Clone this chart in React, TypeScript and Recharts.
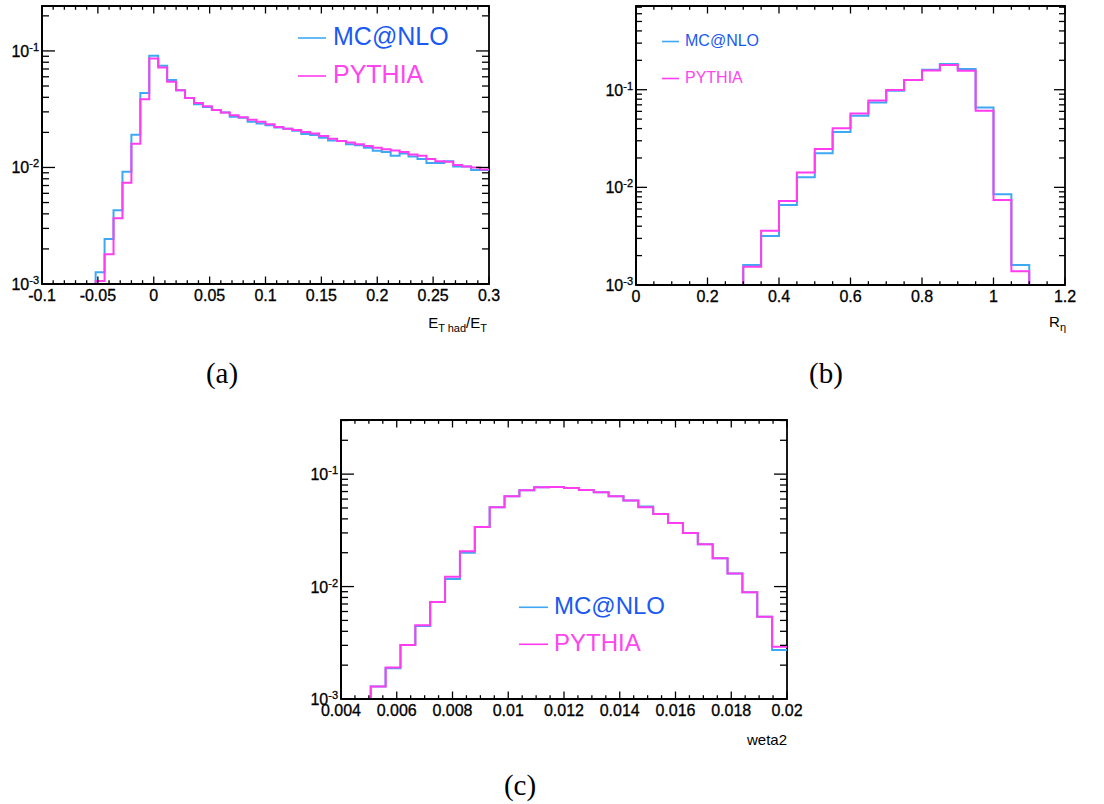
import React from "react"
import { LineChart, Line, XAxis, YAxis, ReferenceArea, Legend } from "recharts"

const FONT = "'Liberation Sans', Arial, Helvetica, sans-serif"
const SERIF = "'Liberation Serif', 'DejaVu Serif', serif"
const MC_LINE = "#3ea8f3"
const PY_LINE = "#ff3cf0"
const MC_TEXT = "#1a5af2"
const PY_TEXT = "#ff45ee"
const Y_MIN = 0.001

// (a) E_T had / E_T : 50 bins of 0.008 from -0.1
const etLow = -0.1
const etBin = 0.008
const etMc = [
  0.001, 0.001, 0.001, 0.001, 0.001, 0.001, 0.00126, 0.00243, 0.00429, 0.0092,
  0.0191, 0.0436, 0.091, 0.0748, 0.0564, 0.046, 0.0395, 0.0349, 0.033, 0.0312,
  0.0296, 0.0273, 0.0267, 0.0247, 0.0238, 0.023, 0.022, 0.0215, 0.0207, 0.0194,
  0.019, 0.018, 0.017, 0.0169, 0.0158, 0.0155, 0.0148, 0.0139, 0.0136, 0.0126,
  0.0132, 0.0124, 0.0118, 0.0109, 0.0109, 0.0113, 0.0102, 0.0102, 0.0095, 0.0095,
]
const etPy = [
  0.001, 0.001, 0.001, 0.001, 0.001, 0.001, 0.00106, 0.0018, 0.00366, 0.0074,
  0.016, 0.0385, 0.086, 0.072, 0.0545, 0.046, 0.0395, 0.0358, 0.0335, 0.0312,
  0.0296, 0.0281, 0.027, 0.0257, 0.0247, 0.0235, 0.0222, 0.0215, 0.021, 0.0202,
  0.0196, 0.0186, 0.0176, 0.0169, 0.0164, 0.0158, 0.0153, 0.0148, 0.0143, 0.014,
  0.0136, 0.0129, 0.0126, 0.0118, 0.0113, 0.0112, 0.0105, 0.0102, 0.01, 0.0096,
]
const etMajor = [-0.1, -0.05, 0, 0.05, 0.1, 0.15, 0.2, 0.25, 0.3]
const etLabels = ["-0.1", "-0.05", "0", "0.05", "0.1", "0.15", "0.2", "0.25", "0.3"]

// (b) R_eta : 24 bins of 0.05 from 0
const rEtaLow = 0
const rEtaBin = 0.05
const rEtaMc = [
  0.001, 0.001, 0.001, 0.001, 0.001, 0.001, 0.0016, 0.00317, 0.0066, 0.0127,
  0.0224, 0.0368, 0.0542, 0.0741, 0.0977, 0.126, 0.16, 0.183, 0.163, 0.0659,
  0.00848, 0.0016, 0.001, 0.001,
]
const rEtaPy = [
  0.001, 0.001, 0.001, 0.001, 0.001, 0.001, 0.00154, 0.0036, 0.00724, 0.0142,
  0.0247, 0.0402, 0.0572, 0.0777, 0.0995, 0.126, 0.157, 0.179, 0.156, 0.061,
  0.00741, 0.00138, 0.001, 0.001,
]
const rEtaMajor = [0, 0.2, 0.4, 0.6, 0.8, 1, 1.2]
const rEtaLabels = ["0", "0.2", "0.4", "0.6", "0.8", "1", "1.2"]

// (c) weta2 : 30 bins from 0.004 to 0.02
const weta2Low = 0.004
const weta2Bin = 0.016 / 30
const weta2Mc = [
  0.001, 0.001, 0.00129, 0.00188, 0.00302, 0.00445, 0.0073, 0.0117, 0.02, 0.0339,
  0.0507, 0.0635, 0.0718, 0.0764, 0.0767, 0.0753, 0.0723, 0.069, 0.0635, 0.0582,
  0.0515, 0.0442, 0.0368, 0.03, 0.0238, 0.0179, 0.0131, 0.0089, 0.0054, 0.00273,
]
const weta2Py = [
  0.001, 0.001, 0.00129, 0.00191, 0.00302, 0.00452, 0.0073, 0.0122, 0.0206, 0.0339,
  0.0507, 0.0635, 0.0718, 0.0764, 0.0767, 0.0753, 0.0723, 0.069, 0.0635, 0.0582,
  0.0507, 0.0442, 0.0368, 0.03, 0.0238, 0.0179, 0.0131, 0.0089, 0.0054, 0.00292,
]
const weta2Major = [0.004, 0.006, 0.008, 0.01, 0.012, 0.014, 0.016, 0.018, 0.02]
const weta2Labels = ["0.004", "0.006", "0.008", "0.01", "0.012", "0.014", "0.016", "0.018", "0.02"]

type Row = { x: number; mc: number; py: number }

// histogram rows at the low edge of each bin, plus the closing edge
function histRows(low: number, bin: number, mc: number[], py: number[]): Row[] {
  const rows = mc.map((v, i) => ({ x: low + i * bin, mc: v, py: py[i] }))
  rows.push({ x: low + mc.length * bin, mc: mc[mc.length - 1], py: py[py.length - 1] })
  return rows
}

function minorTicks(major: number[], parts: number) {
  const out: number[] = []
  for (let i = 0; i < major.length - 1; i++) {
    const step = (major[i + 1] - major[i]) / parts
    for (let k = 0; k < parts; k++) out.push(major[i] + k * step)
  }
  out.push(major[major.length - 1])
  return out
}

function logTicks(min: number, max: number) {
  const out: number[] = []
  for (let e = Math.round(Math.log10(min)); e < 2; e++) {
    for (let m = 1; m <= 9; m++) {
      const v = m * Math.pow(10, e)
      if (v > max * 1.0001) return out
      out.push(v)
    }
  }
  return out
}

type Plot = { left: number; top: number; right: number; bottom: number }
type LegendPos = { left: number; top: number; size: number; lineLen: number; gap: number; rowGap: number }

type PanelProps = {
  left: number
  top: number
  width: number
  height: number
  plot: Plot
  rows: Row[]
  xMajor: number[]
  xLabels: string[]
  xParts: number
  yMax: number
  yMajorLen: number
  yMinorLen: number
  legend: LegendPos
  title: React.ReactNode
}

const X_AXIS_H = 30
const LABEL_SIZE = 16

function HistPanel(p: PanelProps) {
  const { plot } = p
  const xDomain: [number, number] = [p.xMajor[0], p.xMajor[p.xMajor.length - 1]]
  const xTicks = minorTicks(p.xMajor, p.xParts)
  const yTicks = logTicks(Y_MIN, p.yMax)

  const xTick = (t: any) => {
    const v = t.payload.value
    const x = t.x
    const idx = p.xMajor.findIndex((m) => Math.abs(m - v) < 1e-9)
    const len = idx >= 0 ? 7.5 : 3.8
    return (
      <g>
        <line x1={x} x2={x} y1={plot.bottom} y2={plot.bottom - len} stroke="#000" strokeWidth={1.3} />
        <line x1={x} x2={x} y1={plot.top} y2={plot.top + len} stroke="#000" strokeWidth={1.3} />
        {idx >= 0 && (
          <text x={x} y={plot.bottom + 17} textAnchor="middle" fontSize={LABEL_SIZE} fontFamily={FONT} fill="#000" stroke="#000" strokeWidth={0.3}>
            {p.xLabels[idx]}
          </text>
        )}
      </g>
    )
  }

  const yTick = (t: any) => {
    const v = t.payload.value
    const y = t.y
    const exp = Math.log10(v)
    const major = Math.abs(exp - Math.round(exp)) < 1e-6
    const len = major ? p.yMajorLen : p.yMinorLen
    return (
      <g>
        <line x1={plot.left} x2={plot.left + len} y1={y} y2={y} stroke="#000" strokeWidth={1.3} />
        <line x1={plot.right} x2={plot.right - len} y1={y} y2={y} stroke="#000" strokeWidth={1.3} />
        {major && (
          <text x={plot.left - 3} y={y + 6} textAnchor="end" fontSize={LABEL_SIZE} fontFamily={FONT} fill="#000" stroke="#000" strokeWidth={0.3}>
            10
            <tspan fontSize={11} dy={-6}>
              {String(Math.round(exp))}
            </tspan>
          </text>
        )}
      </g>
    )
  }

  const lg = p.legend
  const legendBox = () => (
    <svg width={lg.lineLen + lg.gap + lg.size * 4.8} height={lg.rowGap + lg.size * 1.4} style={{ display: "block", overflow: "visible" }}>
      <line x1={0} x2={lg.lineLen} y1={lg.size * 0.72} y2={lg.size * 0.72} stroke={MC_LINE} strokeWidth={1.6} />
      <text x={lg.lineLen + lg.gap} y={lg.size} fontSize={lg.size} fontFamily={FONT} fill={MC_TEXT}>
        MC@NLO
      </text>
      <line x1={0} x2={lg.lineLen} y1={lg.rowGap + lg.size * 0.72} y2={lg.rowGap + lg.size * 0.72} stroke={PY_LINE} strokeWidth={1.6} />
      <text x={lg.lineLen + lg.gap} y={lg.rowGap + lg.size} fontSize={lg.size} fontFamily={FONT} fill={PY_TEXT}>
        PYTHIA
      </text>
    </svg>
  )

  return (
    <div style={{ position: "absolute", left: p.left, top: p.top }}>
      <LineChart
        width={p.width}
        height={p.height}
        data={p.rows}
        margin={{ top: plot.top, right: p.width - plot.right, left: 0, bottom: p.height - plot.bottom - X_AXIS_H }}
      >
        <XAxis
          dataKey="x"
          type="number"
          domain={xDomain}
          ticks={xTicks}
          interval={0}
          height={X_AXIS_H}
          tickSize={0}
          tickMargin={0}
          tickLine={false}
          axisLine={{ stroke: "#000", strokeWidth: 2 }}
          tick={xTick}
        />
        <YAxis
          type="number"
          scale="log"
          domain={[Y_MIN, p.yMax]}
          ticks={yTicks}
          interval={0}
          width={plot.left}
          tickSize={0}
          tickMargin={0}
          tickLine={false}
          axisLine={{ stroke: "#000", strokeWidth: 2 }}
          tick={yTick}
        />
        <Legend
          layout="vertical"
          verticalAlign="middle"
          align="center"
          content={legendBox}
          wrapperStyle={{ left: lg.left, top: lg.top, width: "auto", height: "auto" }}
        />
        <ReferenceArea x1={xDomain[0]} x2={xDomain[1]} y1={Y_MIN} y2={p.yMax} fill="none" fillOpacity={0} stroke="#000" strokeWidth={1.8} />
        <Line dataKey="mc" name="MC@NLO" type="stepAfter" stroke={MC_LINE} strokeWidth={2} dot={false} activeDot={false} isAnimationActive={false} />
        <Line dataKey="py" name="PYTHIA" type="stepAfter" stroke={PY_LINE} strokeWidth={2} dot={false} activeDot={false} isAnimationActive={false} />
      </LineChart>
      <div style={{ position: "absolute", left: 0, top: 0, pointerEvents: "none" }}>
        <svg width={p.width} height={p.height} style={{ display: "block" }}>
          <g transform={`translate(${plot.right}, ${plot.bottom})`}>{p.title}</g>
        </svg>
      </div>
    </div>
  )
}

const captionStyle = (cx: number, top: number): React.CSSProperties => ({
  position: "absolute",
  left: cx - 50,
  top,
  width: 100,
  textAlign: "center",
  fontFamily: SERIF,
  fontSize: 29,
  lineHeight: "30px",
  color: "#000",
})

export default function App() {
  return (
    <div style={{ position: "absolute", left: 0, top: 0, width: 1104, height: 804, background: "#fff" }}>
      <HistPanel
        left={0}
        top={0}
        width={500}
        height={340}
        plot={{ left: 42, top: 6, right: 489, bottom: 284 }}
        rows={histRows(etLow, etBin, etMc, etPy)}
        xMajor={etMajor}
        xLabels={etLabels}
        xParts={5}
        yMax={0.243}
        yMajorLen={13}
        yMinorLen={7}
        legend={{ left: 298, top: 20, size: 25, lineLen: 28, gap: 7, rowGap: 38 }}
        title={
          <text x={-2} y={44} textAnchor="end" fontSize={15} fontFamily={FONT} fill="#000">
            E<tspan fontSize={11} dy={4}>T had</tspan>
            <tspan fontSize={15} dy={-4}>/E</tspan>
            <tspan fontSize={11} dy={4}>T</tspan>
          </text>
        }
      />
      <HistPanel
        left={560}
        top={0}
        width={544}
        height={340}
        plot={{ left: 76, top: 6, right: 505, bottom: 285 }}
        rows={histRows(rEtaLow, rEtaBin, rEtaMc, rEtaPy)}
        xMajor={rEtaMajor}
        xLabels={rEtaLabels}
        xParts={4}
        yMax={0.72}
        yMajorLen={11}
        yMinorLen={6}
        legend={{ left: 102, top: 30, size: 16, lineLen: 17, gap: 6, rowGap: 37 }}
        title={
          <text x={1} y={42} textAnchor="end" fontSize={15} fontFamily={FONT} fill="#000">
            R<tspan fontSize={11} dy={4}>η</tspan>
          </text>
        }
      />
      <HistPanel
        left={290}
        top={400}
        width={520}
        height={360}
        plot={{ left: 51, top: 20, right: 497, bottom: 299 }}
        rows={histRows(weta2Low, weta2Bin, weta2Mc, weta2Py)}
        xMajor={weta2Major}
        xLabels={weta2Labels}
        xParts={4}
        yMax={0.303}
        yMajorLen={13}
        yMinorLen={7}
        legend={{ left: 229, top: 190, size: 24, lineLen: 29, gap: 6, rowGap: 37 }}
        title={
          <text x={0} y={46} textAnchor="end" fontSize={15} fontFamily={FONT} fill="#000">
            weta2
          </text>
        }
      />
      <div style={captionStyle(222, 358)}>(a)</div>
      <div style={captionStyle(826, 358)}>(b)</div>
      <div style={captionStyle(520, 770)}>(c)</div>
    </div>
  )
}
